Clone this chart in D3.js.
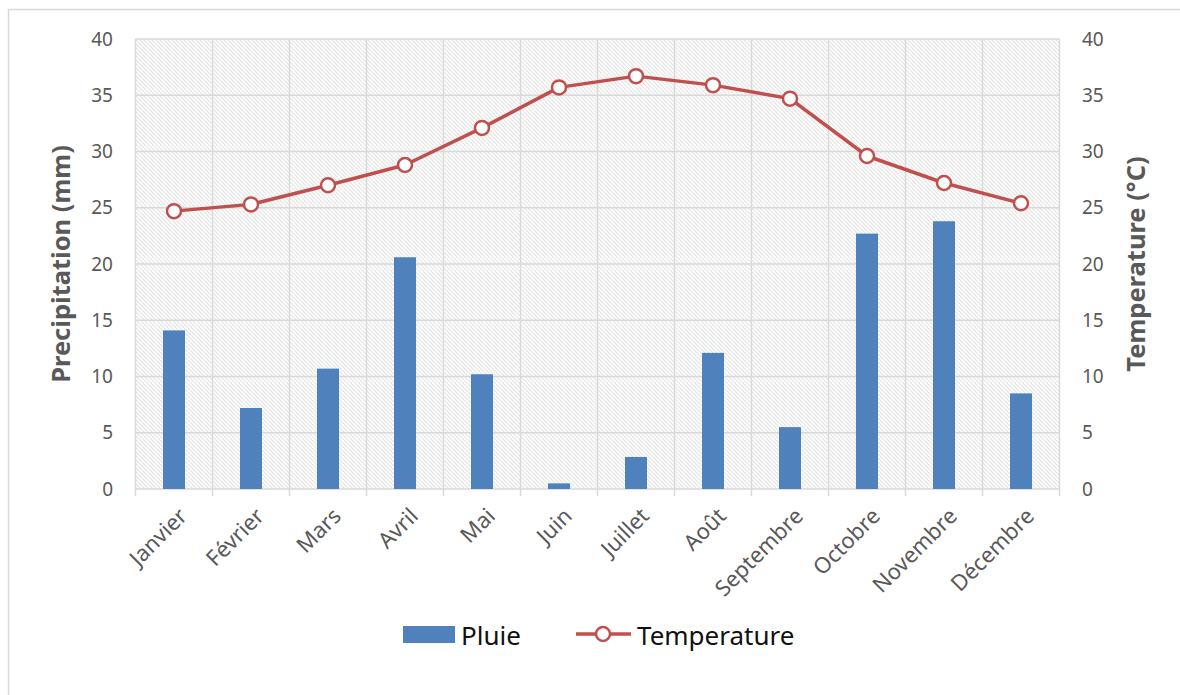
<!DOCTYPE html>
<html>
<head>
<meta charset="utf-8">
<script src="https://cdn.jsdelivr.net/npm/d3@7"></script>
<style>
  body { margin: 0; background: #fff; }
  text { font-family: "Noto Sans", "Open Sans", sans-serif; }
</style>
</head>
<body>
<svg id="chart" width="1180" height="695"></svg>
<script>
// -------- data --------
const months = ["Janvier", "Février", "Mars", "Avril", "Mai", "Juin",
  "Juillet", "Août", "Septembre", "Octobre", "Novembre", "Décembre"];
const pluie = [14.1, 7.2, 10.7, 20.6, 10.2, 0.5, 2.85, 12.1, 5.5, 22.7, 23.8, 8.5];
const temperature = [24.7, 25.3, 27.0, 28.8, 32.1, 35.7, 36.7, 35.9, 34.7, 29.6, 27.2, 25.4];
const yTicks = [0, 5, 10, 15, 20, 25, 30, 35, 40];

// initial setup
const svg = d3.select("#chart"),
  width = +svg.attr("width"),
  height = +svg.attr("height");

const plot = { left: 135.5, right: 1059.5, top: 39, bottom: 489 };

const x = d3.scaleBand().domain(months).range([plot.left, plot.right]).padding(0);
const yLeft = d3.scaleLinear().domain([0, 40]).range([plot.bottom, plot.top]);
const yRight = d3.scaleLinear().domain([0, 40]).range([plot.bottom, plot.top]);

const grid = "#d9d9d9",
  tickText = "#595959",
  barColour = "#4f81bd",
  lineColour = "#c0504d";

// outer frame (runs off the bottom / right like the original)
svg.append("rect")
  .attr("x", 8.5).attr("y", 9.5)
  .attr("width", width + 10).attr("height", height + 10)
  .attr("fill", "#fff")
  .attr("stroke", grid)
  .attr("stroke-width", 1.5);

// hatch pattern for the plot background
const defs = svg.append("defs");
const hatch = defs.append("pattern")
  .attr("id", "hatch")
  .attr("patternUnits", "userSpaceOnUse")
  .attr("width", 4).attr("height", 4);
hatch.append("path")
  .attr("d", "M-1,-1L5,5M-1,3L1,5M3,-1L5,1")
  .attr("stroke", "#e3e3e3")
  .attr("stroke-width", 1.1)
  .attr("fill", "none");

svg.append("rect")
  .attr("x", plot.left).attr("y", plot.top)
  .attr("width", plot.right - plot.left).attr("height", plot.bottom - plot.top)
  .attr("fill", "url(#hatch)");

// horizontal gridlines
svg.append("g")
  .selectAll("line")
  .data(yTicks)
  .join("line")
  .attr("x1", plot.left).attr("x2", plot.right)
  .attr("y1", d => yLeft(d)).attr("y2", d => yLeft(d))
  .attr("stroke", grid).attr("stroke-width", 1.5);

// vertical gridlines at category boundaries, plus small ticks under the axis
const bounds = months.map(m => x(m)).concat([plot.right]);
svg.append("g")
  .selectAll("line")
  .data(bounds)
  .join("line")
  .attr("x1", d => d).attr("x2", d => d)
  .attr("y1", plot.top).attr("y2", plot.bottom + 7)
  .attr("stroke", grid).attr("stroke-width", 1.5);

// left axis labels
svg.append("g")
  .selectAll("text")
  .data(yTicks)
  .join("text")
  .attr("x", 113)
  .attr("y", d => yLeft(d))
  .attr("dy", "0.35em")
  .attr("text-anchor", "end")
  .attr("fill", tickText)
  .style("font-size", "19px")
  .text(d => d);

// right axis labels
svg.append("g")
  .selectAll("text")
  .data(yTicks)
  .join("text")
  .attr("x", 1082)
  .attr("y", d => yRight(d))
  .attr("dy", "0.35em")
  .attr("text-anchor", "start")
  .attr("fill", tickText)
  .style("font-size", "19px")
  .text(d => d);

// axis titles
const midY = (plot.top + plot.bottom) / 2;
svg.append("text")
  .attr("transform", `translate(70,${midY}) rotate(-90)`)
  .attr("text-anchor", "middle")
  .attr("fill", tickText)
  .style("font-size", "25.5px")
  .style("font-weight", "bold")
  .text("Precipitation (mm)");

svg.append("text")
  .attr("transform", `translate(1145,${midY}) rotate(-90)`)
  .attr("text-anchor", "middle")
  .attr("fill", tickText)
  .style("font-size", "25.5px")
  .style("font-weight", "bold")
  .text("Temperature (°C)");

// month labels, rotated
svg.append("g")
  .selectAll("text")
  .data(months)
  .join("text")
  .attr("transform", d => `translate(${x(d) + x.bandwidth() / 2 + 9},${plot.bottom + 23}) rotate(-45)`)
  .attr("text-anchor", "end")
  .attr("dy", "0.35em")
  .attr("fill", tickText)
  .style("font-size", "22px")
  .text(d => d);

// bars
const barW = x.bandwidth() * 0.286;
svg.append("g")
  .selectAll("rect")
  .data(pluie)
  .join("rect")
  .attr("x", (d, i) => x(months[i]) + x.bandwidth() / 2 - barW / 2)
  .attr("y", d => yLeft(d))
  .attr("width", barW)
  .attr("height", d => yLeft(0) - yLeft(d))
  .attr("fill", barColour);

// temperature line
const line = d3.line()
  .x((d, i) => x(months[i]) + x.bandwidth() / 2)
  .y(d => yRight(d));

svg.append("path")
  .datum(temperature)
  .attr("d", line)
  .attr("fill", "none")
  .attr("stroke", lineColour)
  .attr("stroke-width", 3.5)
  .attr("stroke-linejoin", "round");

svg.append("g")
  .selectAll("circle")
  .data(temperature)
  .join("circle")
  .attr("cx", (d, i) => x(months[i]) + x.bandwidth() / 2)
  .attr("cy", d => yRight(d))
  .attr("r", 7)
  .attr("fill", "#fff")
  .attr("stroke", lineColour)
  .attr("stroke-width", 2.5);

// legend
const legend = svg.append("g");
legend.append("rect")
  .attr("x", 403).attr("y", 626)
  .attr("width", 52).attr("height", 17)
  .attr("fill", barColour);
legend.append("text")
  .attr("x", 461).attr("y", 645)
  .attr("fill", "#111")
  .style("font-size", "26px")
  .text("Pluie");

legend.append("line")
  .attr("x1", 576).attr("x2", 631)
  .attr("y1", 634).attr("y2", 634)
  .attr("stroke", lineColour)
  .attr("stroke-width", 3.5);
legend.append("circle")
  .attr("cx", 603).attr("cy", 634).attr("r", 7)
  .attr("fill", "#fff")
  .attr("stroke", lineColour)
  .attr("stroke-width", 2.5);
legend.append("text")
  .attr("x", 637).attr("y", 645)
  .attr("fill", "#111")
  .style("font-size", "26px")
  .text("Temperature");
</script>
</body>
</html>
